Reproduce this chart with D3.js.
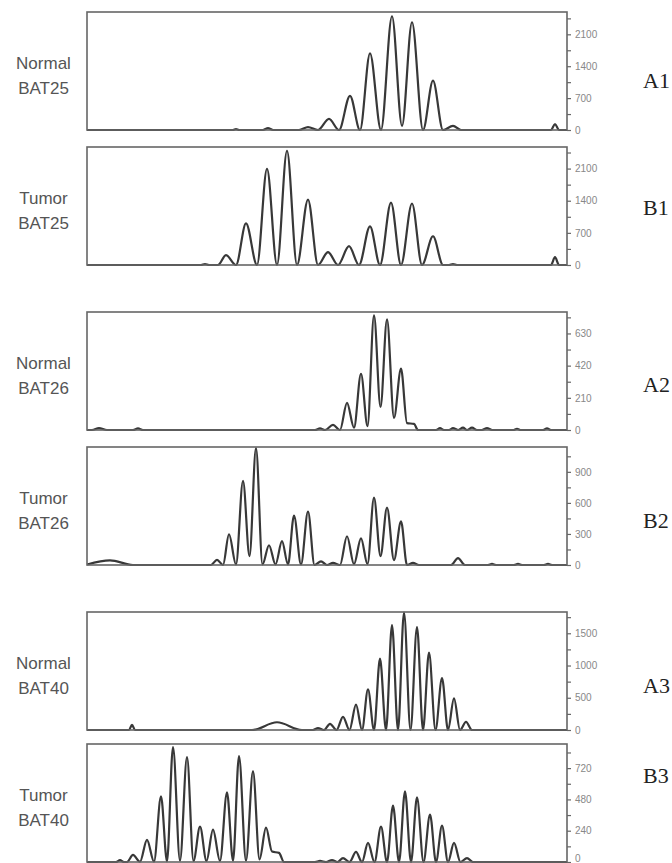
<!DOCTYPE html>
<html>
<head>
<meta charset="utf-8">
<script src="https://cdn.jsdelivr.net/npm/d3@7"></script>
<style>
  body { margin: 0; background: #fff; }
</style>
</head>
<body>
<svg id="chart"></svg>
<script>
// ---- data ----
const panelIds = ["A1", "B1", "A2", "B2", "A3", "B3"];
const tissue = ["Normal", "Tumor", "Normal", "Tumor", "Normal", "Tumor"];
const marker = ["BAT25", "BAT25", "BAT26", "BAT26", "BAT40", "BAT40"];
const yMax = [2590, 2570, 770, 1140, 1830, 905];
const tickStep = [350, 350, 105, 150, 250, 120];   // minor ticks, every 2nd is labelled

// traces: [scan position, signal]
const normalBat25 = [[0,0],[146,0],[149,20],[152,0],[176,0],[181,40],[186,0],
  [212,0],[221,65],[231,0],[242,243],[252,0],[263,751],[273,0],[283,1680],[294,0],
  [305,2497],[315,90],[325,2365],[336,0],[346,1083],[356,0],[366,90],[374,0],
  [464,0],[468,130],[472,0],[480,0]];
const tumorBat25 = [[0,0],[114,0],[118,20],[122,0],[131,0],[139,216],[149,0],[159,907],
  [170,0],[180,2095],[190,0],[200,2484],[210,0],[221,1426],[231,0],[241,281],[251,0],
  [262,410],[272,0],[283,842],[293,0],[304,1360],[314,0],[325,1340],[335,0],[346,626],
  [356,0],[362,0],[366,20],[370,0],[464,0],[468,170],[472,0],[480,0]];
const normalBat26 = [[0,0],[5,0],[12,12],[20,0],[46,0],[51,10],[56,0],[228,0],[233,10],
  [238,0],[246,33],[253,0],[260,177],[267,15],[274,367],[280.5,25],[287,748],[293.5,150],
  [300,722],[307,79],[314,400],[320,45],[327,40],[331,0],[349,0],[353,12],[357,0],[362,0],
  [366,12],[371,0],[376,15],[380,0],[385,15],[390,0],[395,0],[400,12],[405,0],[426,0],
  [430,8],[434,0],[456,0],[460,10],[464,0],[480,0]];
const tumorBat26 = [[0,5],[23,45],[46,0],[124,0],[130,50],[136,0],[142,297],[149,5],
  [156,813],[162.5,86],[169,1130],[175.5,5],[182,191],[188.5,5],[195,230],[201,5],
  [207,478],[214,5],[221,517],[227.5,0],[234,35],[240,0],[246,20],[253,0],[260,278],
  [267,8],[274,258],[280.5,8],[287,651],[293.5,86],[300,555],[307,48],[314,421],[320,0],
  [326,20],[332,0],[364,0],[371,67],[378,0],[401,0],[405,10],[409,0],[427,0],[431,10],
  [435,0],[457,0],[461,10],[465,0],[480,0]];
const normalBat40 = [[0,0],[42,0],[45,80],[48,0],[165,0],[190,120],[215,0],[226,0],
  [231,30],[237,0],[243,95],[249.5,0],[256,205],[262.5,0],[269,395],[275,0],[281,632],
  [287,0],[293,1106],[299,0],[305,1627],[311,0],[317,1820],[323.5,0],[330,1596],[336,0],
  [342,1200],[348.5,0],[355,806],[361,0],[367,490],[373,0],[379,126],[385,0],[480,0]];
const tumorBat40 = [[0,0],[29,0],[33,15],[37,0],[40,0],[46,54],[53,2],[60,170],[67,3],
  [74,503],[80,5],[86,882],[93,10],[100,805],[106.5,8],[113,271],[119.5,8],[126,248],
  [133,8],[140,534],[146,10],[152,813],[159,10],[166,697],[172.5,20],[179,263],[185,80],
  [192,70],[197,0],[228,0],[233,8],[239,0],[245,15],[250.5,0],[256,30],[262.5,0],[269,77],
  [275,0],[281,147],[287.5,0],[294,271],[300,0],[306,433],[312,0],[318,542],[324,0],
  [330,495],[336.5,0],[343,364],[349,0],[355,279],[361,0],[367,147],[373.5,0],[380,30],
  [386,0],[480,0]];
const traces = [normalBat25, tumorBat25, normalBat26, tumorBat26, normalBat40, tumorBat40];

// ---- layout ----
const W = 672, H = 863;
const left = 87, plotW = 480, plotH = 118;
const tops = [12, 147, 312, 447, 612, 744];
const idY = [88, 215, 392, 528, 693, 783];

const svg = d3.select("#chart").attr("width", W).attr("height", H);

const x = d3.scaleLinear().domain([0, 480]).range([0, plotW]);

panelIds.forEach((id, i) => {
  const g = svg.append("g").attr("transform", `translate(${left},${tops[i]})`);
  const y = d3.scaleLinear().domain([0, yMax[i]]).range([plotH, 0]);

  const line = d3.line()
      .x(d => x(d[0]))
      .y(d => y(d[1]))
      .curve(d3.curveMonotoneX);

  g.append("path")
      .datum(traces[i])
      .attr("d", line)
      .attr("fill", "none")
      .attr("stroke", "#383838")
      .attr("stroke-width", 2.2)
      .attr("stroke-linejoin", "round");

  g.append("rect")
      .attr("width", plotW).attr("height", plotH)
      .attr("fill", "none")
      .attr("stroke", "#666")
      .attr("stroke-width", 1.6);

  const step = tickStep[i];
  const axis = d3.axisRight(y)
      .tickValues(d3.range(0, yMax[i], step))
      .tickSize(4)
      .tickPadding(4)
      .tickFormat(d => (Math.round(d / step) % 2 === 0) ? d : "");

  const ax = g.append("g")
      .attr("transform", `translate(${plotW},0)`)
      .call(axis);
  ax.select(".domain").remove();
  ax.selectAll(".tick line").attr("stroke", "#666").attr("stroke-width", 1.2);
  ax.selectAll(".tick text")
      .attr("fill", "#888")
      .style("font-family", "Liberation Sans, Arial, sans-serif")
      .style("font-size", "10px");
  // last panel runs to the page edge: keep its "0" inside
  if (i === panelIds.length - 1) {
    ax.selectAll(".tick text").filter(d => d === 0).attr("dy", "-0.05em");
  }

  // sample labels on the left
  const cy = tops[i] + plotH / 2;
  const lab = svg.append("text")
      .attr("text-anchor", "middle")
      .style("font-family", "Liberation Sans, Arial, sans-serif")
      .style("font-size", "17px")
      .attr("fill", "#555");
  lab.append("tspan").attr("x", 43.5).attr("y", cy - 2).text(tissue[i]);
  lab.append("tspan").attr("x", 43.5).attr("y", cy + 23).text(marker[i]);

  // panel id on the right
  svg.append("text")
      .attr("x", 643).attr("y", idY[i])
      .style("font-family", "Liberation Serif, Times New Roman, serif")
      .style("font-size", "22px")
      .attr("fill", "#222")
      .text(id);
});
</script>
</body>
</html>
